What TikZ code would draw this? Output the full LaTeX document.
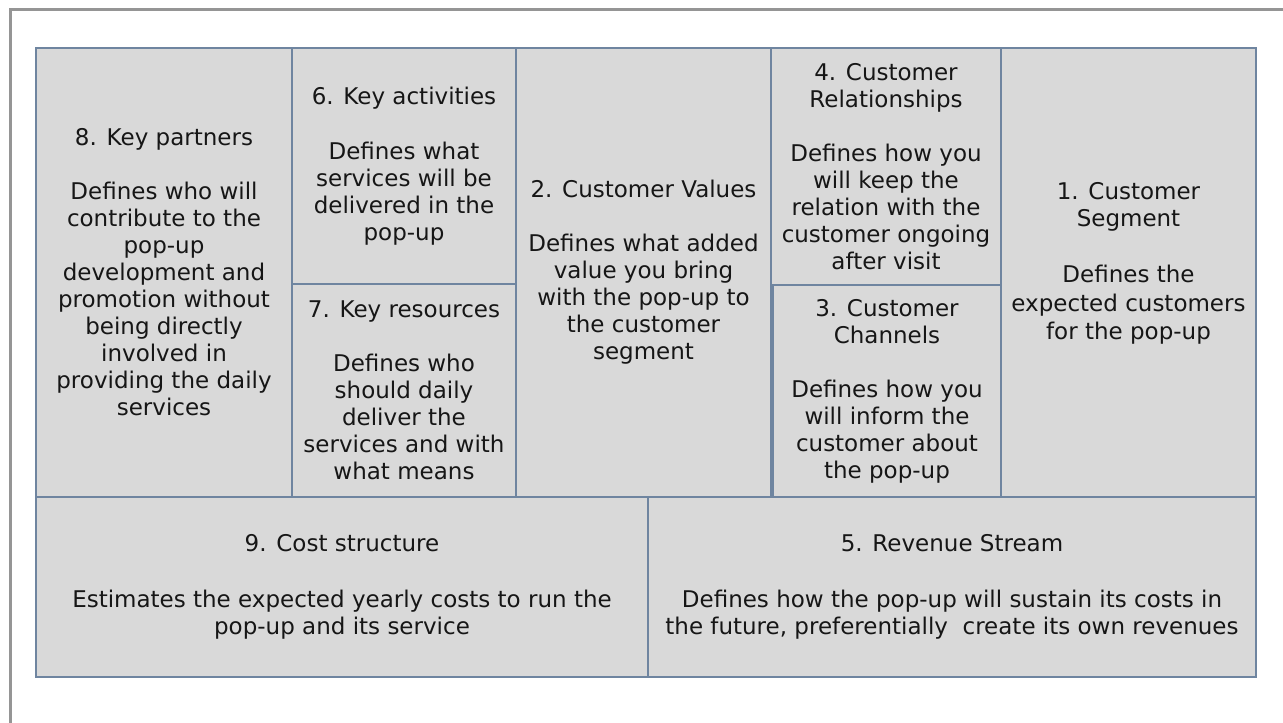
\documentclass[tikz,border=0pt]{standalone}
\usepackage{fontspec}
\setmainfont{DejaVu Sans}
\definecolor{cellfill}{HTML}{D9D9D9}
\definecolor{cellline}{HTML}{6F85A0}
\definecolor{framegray}{HTML}{959595}
\definecolor{celltext}{HTML}{161616}
\begin{document}
\begin{tikzpicture}[x=1pt, y=-1pt,
    cell/.style={draw=cellline, line width=1.3pt, fill=cellfill, align=center,
      inner sep=0pt, text=celltext, font=\fontsize{23}{27}\selectfont}]
\useasboundingbox (0,0) rectangle (1283,723);
\draw[framegray, line width=3pt] (10,723) -- (10,9) -- (1283,9);

\node[cell, minimum width=256pt, minimum height=449pt] (partners) at (164,272.5)
  {8. Key partners\\[27pt] Defines who will\\ contribute to the\\ pop-up\\ development and\\
   promotion without\\ being directly\\ involved in\\ providing the daily\\ services};
\node[cell, minimum width=224pt, minimum height=236pt] (activities) at (404,166)
  {6. Key activities\\[28pt] Defines what\\ services will be\\ delivered in the\\ pop-up};
\node[cell, minimum width=224pt, minimum height=213pt] (resources) at (404,390.5)
  {7. Key resources\\[27pt] Defines who\\ should daily\\ deliver the\\ services and with\\ what means};
\node[cell, minimum width=255pt, minimum height=449pt] (values) at (643.5,272.5)
  {2. Customer Values\\[27pt] Defines what added\\ value you bring\\ with the pop-up to\\ the customer\\ segment};
\node[cell, minimum width=230pt, minimum height=237pt] (relations) at (886,166.5)
  {4. Customer\\ Relationships\\[27pt] Defines how you\\ will keep the\\ relation with the\\ customer ongoing\\ after visit};
\node[cell, minimum width=228pt, minimum height=212pt] (channels) at (887,391)
  {3. Customer\\ Channels\\[27pt] Defines how you\\ will inform the\\ customer about\\ the pop-up};
\node[cell, minimum width=255pt, minimum height=449pt] (segment) at (1128.5,272.5)
  {1. Customer\\ Segment\\[29pt] Defines the\\[2pt] expected customers\\[1pt] for the pop-up\\[-3pt]\mbox{}};

\node[cell, minimum width=612pt, minimum height=180pt] (costs) at (342,587)
  {9. Cost structure\\[29pt] Estimates the expected yearly costs to run the\\ pop-up and its service};
\node[cell, minimum width=608pt, minimum height=180pt] (revenue) at (952,587)
  {5. Revenue Stream\\[29pt] Defines how the pop-up will sustain its costs in\\
   the future, preferentially\ \ create its own revenues};
\end{tikzpicture}
\end{document}
